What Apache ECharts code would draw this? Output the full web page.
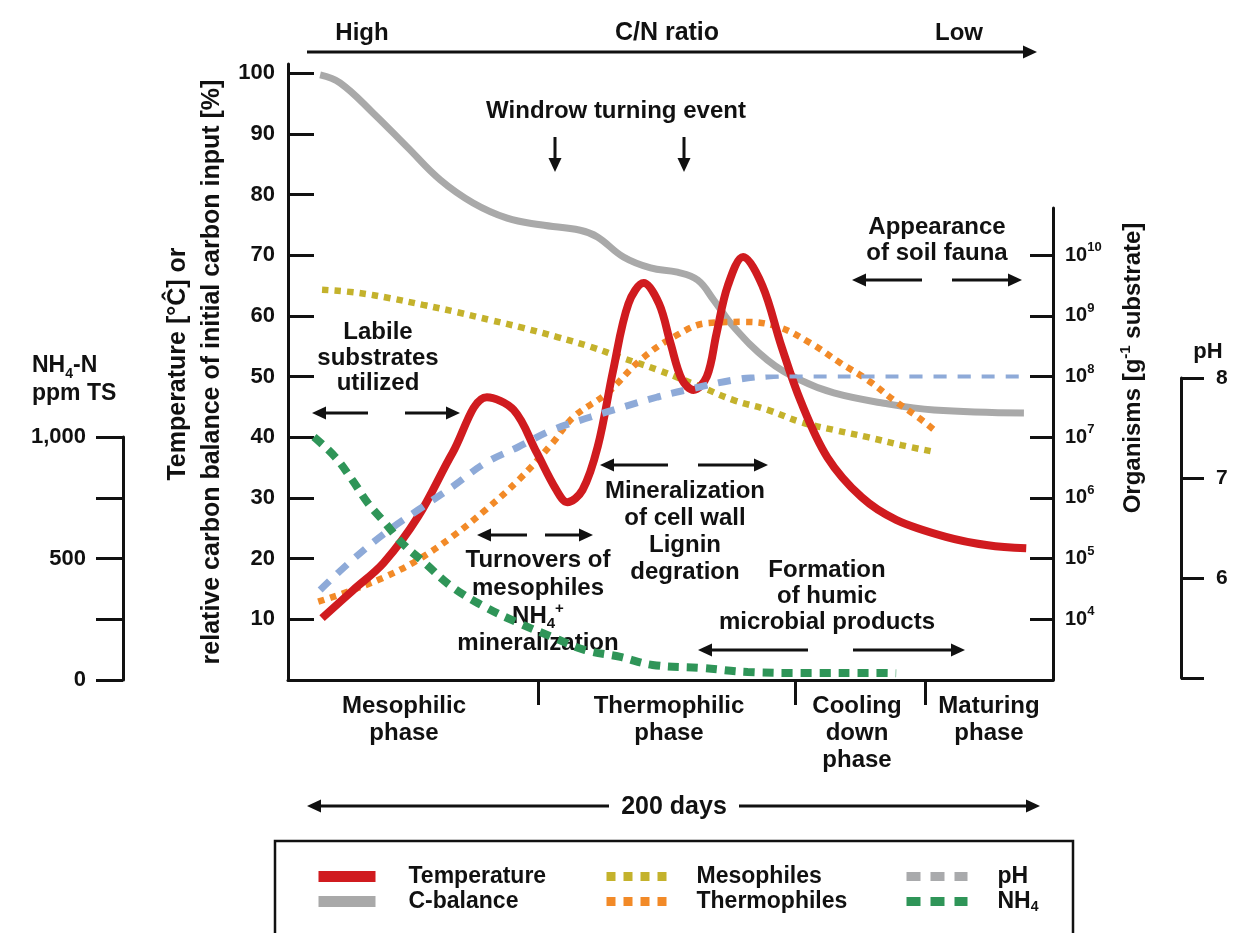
<!DOCTYPE html>
<html><head><meta charset="utf-8">
<script src="https://cdn.jsdelivr.net/npm/echarts@6/dist/echarts.min.js"></script>
<style>html,body{margin:0;padding:0;background:#fff}#c{width:1233px;height:933px}</style>
</head><body><div id="c"></div>
<script>
// ---------- data (x = composting time in days, 0-200) ----------
const tempDays   = [8.9,17,25,34,43,52,59,65,70,73,77,81,85,89,93,97,100,103,106,109.5,112,115,119,124,129,134,141,150,159,172,183,193];
const tempValues = [10.2,14.8,19.3,26.9,37.4,46.6,44.5,37.5,31.5,29.3,31.3,38.5,51,62,65.4,62,55.5,49.5,47.8,50,57,65,69.7,65,55,46,36.7,30.1,26.4,23.6,22.2,21.7];

const cDays   = [8.4,13.6,22.3,31.2,39.8,48.4,57.3,66.0,76.4,80.9,87.7,94.8,101.8,107.1,111.3,116.5,125.4,134.0,142.7,155.8,168.9,192.4];
const cValues = [99.7,98.4,93.4,87.8,82.4,78.6,76.1,75.0,74.1,73.0,69.7,67.9,67.2,65.9,62.6,58.2,52.7,49.4,47.3,45.6,44.5,44.0];

// organisms as log10(count per g substrate)
const mesoDays  = [8.9,18.1,26.7,35.3,44.2,52.9,61.5,70.4,79.1,87.7,96.6,107.9,116.5,125.4,134.0,142.7,151.6,160.3,168.9];
const mesoLog10 = [9.43,9.38,9.29,9.18,9.06,8.93,8.80,8.65,8.49,8.30,8.11,7.83,7.61,7.45,7.25,7.12,7.00,6.87,6.76];

const thermoDays  = [7.9,16.8,25.4,34.0,42.9,51.6,60.2,69.1,74.6,83.5,92.1,100.8,109.7,119.1,128.0,136.6,144.5,151.6,158.4,164.7,168.9];
const thermoLog10 = [4.29,4.48,4.70,4.98,5.36,5.80,6.29,6.90,7.33,7.73,8.27,8.65,8.88,8.90,8.82,8.55,8.22,7.94,7.61,7.33,7.12];

const phDays   = [8.4,16.8,25.4,34.0,42.9,51.6,60.2,69.1,79.1,87.7,96.6,105.2,116.5,125.4,134.0,160.2,191.6];
const phValues = [5.88,6.18,6.45,6.68,6.91,7.15,7.31,7.48,7.61,7.71,7.81,7.89,7.98,8.02,8.03,8.03,8.03];

const nh4Days   = [6.8,12.3,16.8,20.9,25.4,29.8,35.8,42.9,51.6,60.2,69.1,77.7,86.9,95.3,108.4,120.2,134.0,155.0,159.0];
const nh4Values = [1000,918,823,728,646,564,481,383,300,235,177,123,95,62,49,33,29,29,28];

// ticks / labels
const leftTicks      = [10,20,30,40,50,60,70,80,90,100];
const organismExps   = [4,5,6,7,8,9,10];
const phShownLabels  = [6,7,8];
const nh4ShownLabels = [0,500,1000];
const phaseBounds    = [65.4,132.5,166.5];
const phaseNames     = ['Mesophilic\nphase','Thermophilic\nphase','Cooling\ndown\nphase','Maturing\nphase'];

// ---------- helpers ----------
const FF = '"Liberation Sans", Arial, Helvetica, sans-serif';
const INK = '#111';
function pairs(xs, ys){ return xs.map((x,i)=>[x, ys[i]]); }
function T(text, x, y, size, opt){
  opt = opt || {};
  const style = Object.assign({text, fill:INK, fontSize:size||24, fontWeight:'bold', fontFamily:FF,
    align:'center', verticalAlign:'middle', lineHeight:27}, opt.style||{});
  const el = {type:'text', x, y, silent:true, style};
  if (opt.rotation) el.rotation = opt.rotation;
  if (opt.scaleX) el.scaleX = opt.scaleX;
  return el;
}
function arrow(x1,y1,x2,y2){
  const a=Math.atan2(y2-y1,x2-x1), L=14, W=6.5;
  const bx=x2-L*Math.cos(a), by=y2-L*Math.sin(a);
  return [
    {type:'line', silent:true, shape:{x1,y1,x2:bx,y2:by}, style:{stroke:INK,lineWidth:3}},
    {type:'polygon', silent:true, shape:{points:[[x2,y2],[bx+W*Math.sin(a),by-W*Math.cos(a)],[bx-W*Math.sin(a),by+W*Math.cos(a)]]}, style:{fill:INK}}
  ];
}
const richBase = {
  a:{fontSize:24,fontWeight:'bold',fontFamily:FF,color:INK,lineHeight:30},
  sub:{fontSize:15,fontWeight:'bold',fontFamily:FF,color:INK,lineHeight:14,verticalAlign:'bottom'},
  sup:{fontSize:15,fontWeight:'bold',fontFamily:FF,color:INK,lineHeight:14,verticalAlign:'top'}
};

// ---------- graphics (annotations) ----------
const phaseCenters = [404,669,857,989];
let G = [];
G.push(T('High',362,33,24), T('C/N ratio',667,33,25), T('Low',959,33,24));
G = G.concat(arrow(307,52,1037,52));
G.push(T('Windrow turning event',616,111,24));
G = G.concat(arrow(555,137,555,172), arrow(684,137,684,172));
G.push(T('Appearance\nof soil fauna',937,240,24,{style:{lineHeight:26}}));
G = G.concat(arrow(922,280,852,280), arrow(952,280,1022,280));
G.push(T('Labile\nsubstrates\nutilized',378,358,24,{style:{lineHeight:25.5}}));
G = G.concat(arrow(368,413,312,413), arrow(405,413,460,413));
G = G.concat(arrow(527,535,477,535), arrow(545,535,593,535));
G.push(T('Turnovers of',538,560,24), T('mesophiles',538,588,24));
G.push(T('{a|NH}{sub|4}{sup|+}',538,616,24,{style:{rich:richBase}}));
G.push(T('mineralization',538,643,24));
G = G.concat(arrow(668,465,600,465), arrow(698,465,768,465));
G.push(T('Mineralization\nof cell wall\nLignin\ndegration',685,532,24,{style:{lineHeight:27}}));
G.push(T('Formation\nof humic\nmicrobial products',827,596,24,{style:{lineHeight:26}}));
G = G.concat(arrow(808,650,698,650), arrow(853,650,965,650));
phaseNames.forEach((n,i)=>{
  const lines = n.split('\n').length;
  G.push(T(n, phaseCenters[i], 706 + (lines-1)*27/2, 24, {style:{lineHeight:27}}));
});
G.push(T('200 days',674,807,25));
G = G.concat(arrow(609,806,307,806), arrow(739,806,1040,806));
// axis titles
G.push(T('Temperature [°Ĉ] or',178,364,25,{rotation:Math.PI/2}));
G.push(T('relative carbon balance of initial carbon input [%]',212,372,25,{rotation:Math.PI/2}));
G.push(T('{o|Organisms [g}{s|-1}{o| substrate]}',1133,368,24,{rotation:Math.PI/2, style:{rich:{
  o:{fontSize:24,fontWeight:'bold',fontFamily:FF,color:INK,lineHeight:30},
  s:{fontSize:15,fontWeight:'bold',fontFamily:FF,color:INK,lineHeight:14,verticalAlign:'top'}}}}));
G.push(T('{a|NH}{sub|4}{a|-N}',32,366,23,{style:{align:'left',rich:{
  a:{fontSize:23,fontWeight:'bold',fontFamily:FF,color:INK,lineHeight:30},
  sub:{fontSize:14,fontWeight:'bold',fontFamily:FF,color:INK,lineHeight:14,verticalAlign:'bottom'}}}}));
G.push(T('ppm TS',32,394,23,{style:{align:'left'}}));
G.push(T('pH',1208,352,22));
// legend frame
G.push({type:'rect', silent:true, shape:{x:275,y:841,width:798,height:120}, style:{fill:'none',stroke:INK,lineWidth:2.5}});

// ---------- chart ----------
const axisLineStyle = {show:true, onZero:false, lineStyle:{color:INK,width:3}};
const labelFont = {color:INK, fontSize:22, fontWeight:'bold', fontFamily:FF};
const gridBase = {left:288, right:180, bottom:253};

const legendText = {
  color:INK, fontSize:23, fontWeight:'bold', fontFamily:FF,
  rich:{
    a:{fontSize:23,fontWeight:'bold',fontFamily:FF,color:INK,lineHeight:25},
    s:{fontSize:14,fontWeight:'bold',fontFamily:FF,color:INK,lineHeight:12,verticalAlign:'bottom'}
  }
};
function legendFmt(name){ return name==='NH4' ? '{a|NH}{s|4}' : '{a|'+name+'}'; }
const hideSym = {opacity:0};

const option = {
  animation:false,
  backgroundColor:'#fff',
  grid:[
    Object.assign({top:64}, gridBase),
    Object.assign({top:208}, gridBase),
    Object.assign({top:378}, gridBase, {bottom:255}),
    Object.assign({top:437}, gridBase)
  ],
  xAxis:[
    {gridIndex:0, type:'value', min:0, max:200, axisLine:{show:true,onZero:false,lineStyle:{color:INK,width:3}},
      axisTick:{show:true, customValues:phaseBounds, length:25, inside:false, lineStyle:{color:INK,width:3}},
      axisLabel:{show:false}, splitLine:{show:false}},
    {gridIndex:1, type:'value', min:0, max:200, show:false},
    {gridIndex:2, type:'value', min:0, max:200, show:false},
    {gridIndex:3, type:'value', min:0, max:200, show:false}
  ],
  yAxis:[
    {gridIndex:0, type:'value', position:'left', min:0, max:101.5, interval:10,
      axisLine:axisLineStyle, splitLine:{show:false},
      axisTick:{show:true, inside:true, length:26, customValues:leftTicks, lineStyle:{color:INK,width:3}},
      axisLabel:Object.assign({customValues:leftTicks, margin:13}, labelFont)},
    {gridIndex:1, type:'value', position:'right', min:3, max:10.776, interval:1,
      axisLine:axisLineStyle, splitLine:{show:false},
      axisTick:{show:true, inside:true, length:23, customValues:organismExps, lineStyle:{color:INK,width:3}},
      axisLabel:{customValues:organismExps, margin:12, formatter:v=>'{b|10}{s|'+v+'}',
        rich:{b:{fontSize:20,fontWeight:'bold',fontFamily:FF,color:INK,lineHeight:28},
              s:{fontSize:13,fontWeight:'bold',fontFamily:FF,color:INK,lineHeight:12,verticalAlign:'top'}}}},
    {gridIndex:2, type:'value', position:'right', offset:128, min:5, max:8, interval:1,
      axisLine:axisLineStyle, splitLine:{show:false},
      axisTick:{show:true, inside:false, length:23, lineStyle:{color:INK,width:3}},
      axisLabel:Object.assign({margin:35, formatter:v=>phShownLabels.indexOf(v)>=0?String(v):''}, labelFont, {fontSize:21})},
    {gridIndex:3, type:'value', position:'left', offset:165, min:0, max:1000, interval:250,
      axisLine:axisLineStyle, splitLine:{show:false},
      axisTick:{show:true, inside:false, length:27, lineStyle:{color:INK,width:3}},
      axisLabel:Object.assign({margin:37, formatter:v=>nh4ShownLabels.indexOf(v)>=0?v.toLocaleString('en-US'):''}, labelFont)}
  ],
  legend:[
    {orient:'vertical', left:308, top:860, itemWidth:57, itemHeight:12, itemGap:2, selectedMode:false,
      formatter:legendFmt, textStyle:Object.assign({padding:[0,0,0,28]}, legendText),
      data:[{name:'Temperature', lineStyle:{width:11}, itemStyle:hideSym}, {name:'C-balance', lineStyle:{width:11}, itemStyle:hideSym}]},
    {orient:'vertical', left:597, top:860, itemWidth:60, itemHeight:12, itemGap:2, selectedMode:false,
      formatter:legendFmt, textStyle:Object.assign({padding:[0,0,0,25]}, legendText),
      data:[{name:'Mesophiles', lineStyle:{width:9,type:[9,8]}, itemStyle:hideSym}, {name:'Thermophiles', lineStyle:{width:9,type:[9,8]}, itemStyle:hideSym}]},
    {orient:'vertical', left:897, top:860, itemWidth:61, itemHeight:12, itemGap:2, selectedMode:false,
      formatter:legendFmt, textStyle:Object.assign({padding:[0,0,0,25]}, legendText),
      data:[{name:'pH', lineStyle:{width:9,type:[14,10],color:'#a9aaac'}, itemStyle:hideSym},
            {name:'NH4', lineStyle:{width:9,type:[14,10]}, itemStyle:hideSym}]}
  ],
  series:[
    {name:'C-balance', type:'line', xAxisIndex:0, yAxisIndex:0, data:pairs(cDays,cValues), smooth:0.4,
      symbol:'none', color:'#a9a9a9', lineStyle:{color:'#a9a9a9', width:7}, z:2},
    {name:'Mesophiles', type:'line', xAxisIndex:1, yAxisIndex:1, data:pairs(mesoDays,mesoLog10), smooth:0.4,
      symbol:'none', color:'#c4b22c', lineStyle:{color:'#c4b22c', width:6.5, type:[6.5,6]}, z:3},
    {name:'Thermophiles', type:'line', xAxisIndex:1, yAxisIndex:1, data:pairs(thermoDays,thermoLog10), smooth:0.4,
      symbol:'none', color:'#f28a28', lineStyle:{color:'#f28a28', width:6.5, type:[6.5,6]}, z:3},
    {name:'Temperature', type:'line', xAxisIndex:0, yAxisIndex:0, data:pairs(tempDays,tempValues), smooth:0.35,
      symbol:'none', color:'#d01b1f', lineStyle:{color:'#d01b1f', width:8}, z:4},
    {name:'pH', type:'line', xAxisIndex:2, yAxisIndex:2, data:pairs(phDays,phValues), smooth:0.4,
      symbol:'none', color:'#8eaad8', lineStyle:{color:'#8eaad8', width:7, type:[13,11]}, z:5},
    {name:'NH4', type:'line', xAxisIndex:3, yAxisIndex:3, data:pairs(nh4Days,nh4Values), smooth:0.4,
      symbol:'none', color:'#2f9558', lineStyle:{color:'#2f9558', width:8, type:[11,8]}, z:5}
  ],
  graphic:G
};
const chart = echarts.init(document.getElementById('c'), null, {renderer:'canvas'});
chart.setOption(option);
</script></body></html>
